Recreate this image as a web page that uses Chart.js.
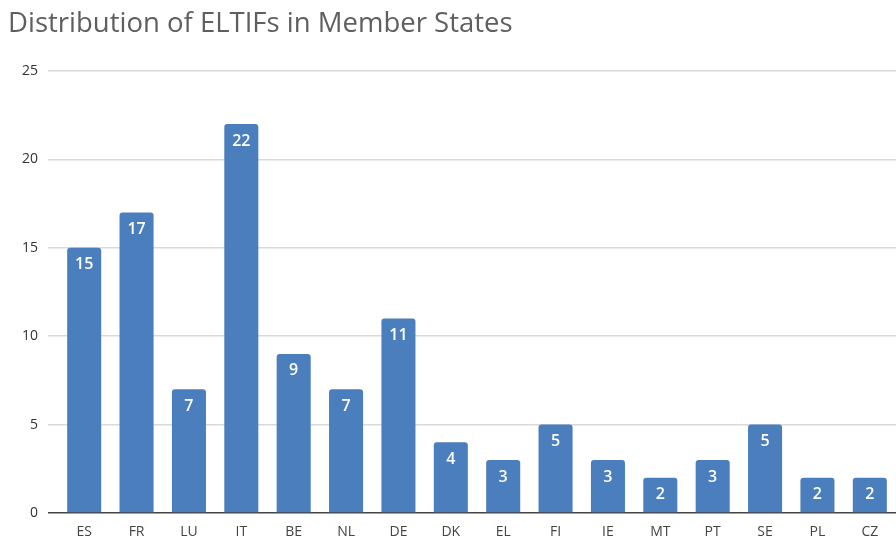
<!DOCTYPE html>
<html>
<head>
<meta charset="utf-8">
<script src="https://cdn.jsdelivr.net/npm/chart.js@4/dist/chart.umd.min.js"></script>
<style>
html,body{margin:0;padding:0;background:#fff;}
#wrap{width:896px;height:540px;}
</style>
</head>
<body>
<div id="wrap"><canvas id="c" width="896" height="540"></canvas></div>
<script>
const categories = ['ES','FR','LU','IT','BE','NL','DE','DK','EL','FI','IE','MT','PT','SE','PL','CZ'];
const values = [15,17,7,22,9,7,11,4,3,5,3,2,3,5,2,2];
const yTicks = [0,5,10,15,20,25];
const titleText = 'Distribution of ELTIFs in Member States';

const barLabels = {
  id: 'barLabels',
  afterDatasetsDraw(chart) {
    const ctx = chart.ctx;
    const meta = chart.getDatasetMeta(0);
    ctx.save();
    ctx.fillStyle = '#ffffff';
    ctx.font = '600 16px "Open Sans"';
    ctx.textAlign = 'center';
    ctx.textBaseline = 'middle';
    meta.data.forEach((bar, i) => {
      ctx.fillText(String(values[i]), bar.x, bar.y + 17);
    });
    ctx.restore();
  }
};

new Chart(document.getElementById('c'), {
  type: 'bar',
  data: {
    labels: categories,
    datasets: [{
      data: values,
      backgroundColor: '#4a7ebd',
      borderRadius: {topLeft: 3, topRight: 3, bottomLeft: 0, bottomRight: 0},
      borderSkipped: 'bottom',
      barPercentage: 0.65,
      categoryPercentage: 1.0
    }]
  },
  options: {
    responsive: false,
    animation: false,
    layout: {padding: {left: 8, right: 0, top: 0, bottom: 0}},
    plugins: {
      legend: {display: false},
      tooltip: {enabled: false},
      title: {
        display: true,
        text: titleText,
        align: 'start',
        color: '#5f5f5f',
        font: {family: '"Open Sans"', size: 27.5, weight: 'normal'},
        padding: {top: 8, bottom: 30}
      }
    },
    scales: {
      x: {
        afterFit(axis) { axis.height = 27; },
        grid: {display: false},
        border: {display: false},
        ticks: {color: '#444', font: {family: '"Open Sans"', size: 14}, padding: 3}
      },
      y: {
        min: 0, max: 25,
        afterBuildTicks(axis) { axis.ticks = yTicks.map(v => ({value: v})); },
        afterFit(axis) { axis.width = 50; },
        border: {display: false},
        grid: {
          color: (c) => c.tick && c.tick.value === 0 ? '#444444' : '#d9d9d9',
          lineWidth: 1.5,
          tickLength: 10
        },
        ticks: {color: '#333', font: {family: '"Open Sans"', size: 14}, padding: 10}
      }
    }
  },
  plugins: [barLabels]
});
</script>
</body>
</html>
